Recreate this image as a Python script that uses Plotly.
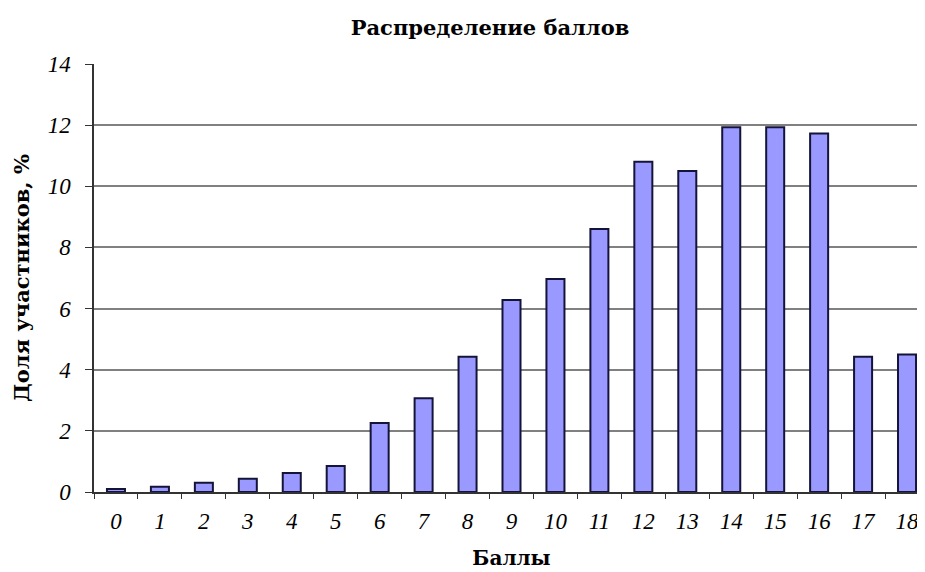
import plotly.graph_objects as go

categories = [str(i) for i in range(19)]
values = [0.1, 0.17, 0.3, 0.43, 0.62, 0.85, 2.26, 3.07, 4.42, 6.28, 6.97, 8.6,
          10.8, 10.5, 11.93, 11.93, 11.73, 4.42, 4.5]
y_ticks = [0, 2, 4, 6, 8, 10, 12, 14]

serif = "Liberation Serif, DejaVu Serif, serif"
wide_serif = "DejaVu Serif, Liberation Serif, serif"

fig = go.Figure(go.Bar(
    x=categories, y=values,
    marker=dict(color="#9999FF", line=dict(color="#14143a", width=2)),
))

fig.update_layout(
    width=925, height=572,
    margin=dict(l=86, r=4, t=56, b=88, autoexpand=False),
    paper_bgcolor="white", plot_bgcolor="white",
    bargap=0.59,
    showlegend=False,
    title=dict(text="<b>Распределение баллов</b>", x=482/925, xanchor="center",
               y=1 - 20/572, yanchor="middle",
               font=dict(family=wide_serif, size=21, color="black")),
)
fig.update_xaxes(
    type="category", tickson="boundaries", ticks="outside", ticklen=5,
    tickcolor="#333333", showline=True, linecolor="#333333", linewidth=1.5,
    automargin=False, ticklabelstandoff=8,
    tickfont=dict(family=serif, size=23, style="italic", color="black"),
    title=dict(text="<b>Баллы</b>", font=dict(family=wide_serif, size=20, color="black"), standoff=18),
)
fig.update_yaxes(
    range=[0, 14], tickvals=y_ticks, ticks="outside", ticklen=7, tickcolor="#333333",
    showline=True, linecolor="#333333", linewidth=1.5, automargin=False,
    ticklabelstandoff=10,
    showgrid=True, gridcolor="#808080", gridwidth=2, zeroline=False,
    tickfont=dict(family=serif, size=23, style="italic", color="black"),
    title=dict(text="<b>Доля участников, %</b>", font=dict(family=wide_serif, size=21, color="black"), standoff=12),
)

fig.write_html("out.html")
